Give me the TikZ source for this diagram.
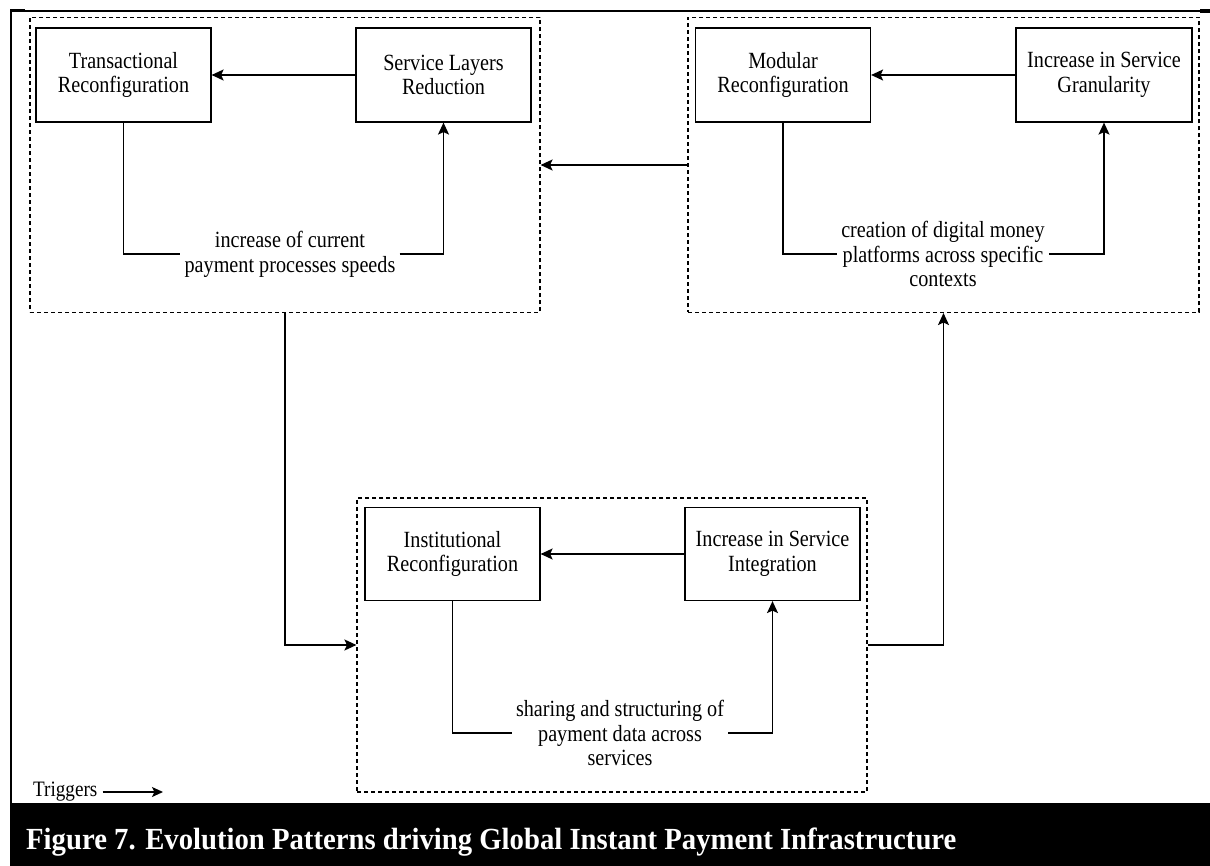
\documentclass[tikz,border=0pt]{standalone}
\usepackage{fontspec}
\setmainfont{Liberation Serif}
\newfontfamily\diagfont[FakeStretch=0.87]{Liberation Serif}
\newfontfamily\capfont[FakeStretch=0.935]{Liberation Serif Bold}
\usetikzlibrary{arrows.meta}

\begin{document}
\begin{tikzpicture}[x=1pt,y=-1pt,
  every node/.style={font=\diagfont\fontsize{23.2}{24.8}\selectfont},
  group/.style={draw, dash pattern=on 4pt off 3pt, line width=1.1pt, inner sep=0pt},
  stepbox/.style={draw, line width=1.2pt, minimum width=175pt, minimum height=94pt, align=center, inner sep=2pt},
  lbl/.style={align=center, inner xsep=4pt, inner ysep=0pt},
  conn/.style={line width=1.5pt},
  arr/.style={conn, -{Stealth[length=12pt,width=11pt,inset=2.5pt]}}
]
\useasboundingbox (0,0) rectangle (1210,866);

% page frame and caption band
\draw[line width=1.3pt] (10,11) -- (1200,11);
\draw[line width=2pt] (11,10) -- (11,803);
\fill (10,9.5) rectangle (25,12.5);
\fill (1200,9.5) rectangle (1210,13);
\fill (10,803) rectangle (1210,866);
\node[anchor=base west, text=white, font=\capfont\fontsize{30.7}{34}\selectfont, inner sep=0pt] (cap) at (26,849)
  {Figure 7. Evolution Patterns driving Global Instant Payment Infrastructure};

% dashed pattern groups
\node[group, minimum width=510pt, minimum height=295pt] (g1) at (285,165) {};
\node[group, minimum width=511pt, minimum height=295pt] (g2) at (943.5,165) {};
\node[group, minimum width=510pt, minimum height=294pt] (g3) at (612,645) {};

% steps
\node[stepbox] (tr) at (123.5,75) {Transactional\\Reconfiguration};
\node[stepbox] (sl) at (443.5,75) {Service Layers\\Reduction};
\node[stepbox] (mr) at (783,75) {Modular\\Reconfiguration};
\node[stepbox, minimum width=176pt] (sg) at (1104,75) {Increase in Service\\Granularity};
\node[stepbox, minimum height=93pt] (ir) at (452.5,554) {Institutional\\Reconfiguration};
\node[stepbox, minimum height=93pt] (si) at (772.5,554) {Increase in Service\\Integration};

% loop labels
\node[lbl] (l1) at (290,254) {increase of current\\payment processes speeds};
\node[lbl] (l2) at (943,254) {creation of digital money\\platforms across specific\\contexts};
\node[lbl] (l3) at (620,733) {sharing and structuring of\\payment data across\\services};

% loops inside the groups
\draw[arr] (sl.west) -- (tr.east);
\draw[conn] (tr.south) |- (l1.west);
\draw[arr] (l1.east) -| (sl.south);

\draw[arr] (sg.west) -- (mr.east);
\draw[conn] (mr.south) |- (l2.west);
\draw[arr] (l2.east) -| (sg.south);

\draw[arr] (si.west) -- (ir.east);
\draw[conn] (ir.south) |- (l3.west);
\draw[arr] (l3.east) -| (si.south);

% links between groups
\draw[arr] (g2.west) -- (g1.east);
\draw[arr] (g1.south) |- (g3.west);
\draw[arr] (g3.east) -| (g2.south);

% legend
\node[inner sep=0pt, anchor=west, font=\diagfont\fontsize{22}{24}\selectfont] (trig) at (33,792) {Triggers};
\coordinate (trigend) at (163,792);
\draw[conn, -{Stealth[length=11pt,width=10pt,inset=2.5pt]}] ([xshift=5pt]trig.east) -- (trigend);
\end{tikzpicture}
\end{document}
